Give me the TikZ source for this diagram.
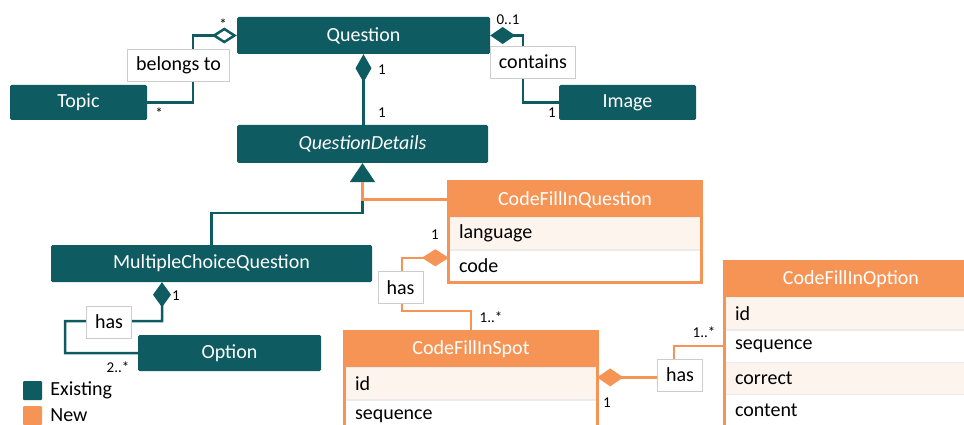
\documentclass[tikz,border=0pt]{standalone}
\usepackage{fontspec}
\setmainfont{Carlito}
\usetikzlibrary{positioning,calc}
\usetikzlibrary{arrows.meta}
\definecolor{oldteal}{HTML}{0F5B62}
\definecolor{neworange}{HTML}{F69455}
\definecolor{rowtint}{HTML}{FEF4EE}

\begin{document}
\begin{tikzpicture}[x=1pt,y=-1pt,
         every node/.style = {font=\fontsize{20}{24}\selectfont},
         existing/.style = {fill=oldteal, text=white, rounded corners=1.5pt,
            inner sep=0pt},
         newclass/.style = {fill=neworange, text=white, minimum width=252pt,
            minimum height=35pt, inner sep=0pt},
         attrrow/.style = {draw=black!8, fill=white, text width=232pt,
            inner xsep=10pt, inner ysep=0pt, minimum height=32pt, align=left},
         tag/.style = {draw=black!20, fill=white, inner xsep=8.5pt,
            inner ysep=0pt, minimum height=32pt},
         mult/.style = {font=\fontsize{15}{17}\selectfont, inner sep=0pt},
         oldlink/.style = {draw=oldteal, line width=2.5pt},
         newlink/.style = {draw=neworange, line width=2.5pt},
         classframe/.style = {draw=neworange, line width=3pt}
]
   \useasboundingbox (0,0) rectangle (964,425);
   \clip (0,0) rectangle (964,425);

   % existing classes
   \node[existing, minimum width=253pt, minimum height=37pt] (question) at (363.5,35.5) {Question};
   \node[existing, minimum width=137pt, minimum height=35pt] (topic) at (78.5,102.5) {Topic};
   \node[existing, minimum width=137pt, minimum height=35pt] (image) at (627.5,102.5) {Image};
   \node[existing, minimum width=251pt, minimum height=38pt, font=\fontsize{20}{24}\selectfont\itshape] (questiondetails) at (362.5,144) {QuestionDetails};
   \node[existing, minimum width=321pt, minimum height=37pt] (mcq) at (211.5,263.5) {MultipleChoiceQuestion};
   \node[existing, minimum width=183pt, minimum height=36pt] (option) at (229.5,353) {Option};

   % new classes with their attributes
   \node[newclass] (cfqhead) at (575,199.5) {CodeFillInQuestion};
   \node[attrrow, fill=rowtint, below=0pt of cfqhead] (cfqlang) {language};
   \node[attrrow, below=0pt of cfqlang] (cfqcode) {code};
   \draw[classframe] (cfqhead.north west) rectangle (cfqcode.south east);

   \node[newclass] (cfishead) at (471,349.5) {CodeFillInSpot};
   \node[attrrow, fill=rowtint, below=0pt of cfishead] (cfisid) {id};
   \node[attrrow, below=0pt of cfisid] (cfisseq) {sequence};
   \draw[classframe] (cfishead.north west) rectangle (cfisseq.south east);

   \node[newclass] (cfiohead) at (851,279.5) {CodeFillInOption};
   \node[attrrow, fill=rowtint, below=0pt of cfiohead] (cfioid) {id};
   \node[attrrow, below=0pt of cfioid] (cfioseq) {sequence};
   \node[attrrow, fill=rowtint, below=0pt of cfioseq] (cfiocorrect) {correct};
   \node[attrrow, below=0pt of cfiocorrect] (cfiocontent) {content};
   \draw[classframe] (cfiohead.north west) rectangle (cfiocontent.south east);

   % associations
   \draw[oldlink, {Diamond[open, length=25pt, width=16pt]}-]
      (question.west) -- ++(-44,0) |- (topic.east);
   \draw[oldlink, {Diamond[length=25pt, width=17pt]}-]
      (question.east) -- ++(33,0) |- (image.west);
   \draw[oldlink, {Diamond[length=28pt, width=16pt]}-]
      (question.south) -- (question.south |- questiondetails.north);
   \draw[oldlink, {Diamond[length=25pt, width=18pt]}-]
      ([xshift=-49.5pt]mcq.south) -- ++(0,39) -| ++(-97,32) -- (option.west);

   % generalization
   \draw[oldlink, -{Triangle[length=19pt, width=25pt]}]
      (mcq.north) -- ++(0,-32) -| (questiondetails.south);
   \draw[newlink] (cfqhead.west) -| ([yshift=-19pt]questiondetails.south);

   \draw[newlink, {Diamond[length=27pt, width=17pt]}-]
      ([yshift=8pt]cfqcode.west) -- ++(-47,0) -- ++(0,53) -| (cfishead.north);
   \draw[newlink, {Diamond[length=26pt, width=18pt]}-]
      ([yshift=6pt]cfisid.east) -- ++(77,0) |- (cfioseq.west);

   \node[tag] (belongs) at (178.5,65) {belongs to};
   \node[tag] (contains) at (533,62) {contains};
   \node[tag] (hasoption) at (109,322) {has};
   \node[tag] (hasspot) at (400.5,287.5) {has};
   \node[tag] (hascfo) at (680,375) {has};

   % multiplicities
   \node[mult] (mtopicq) at (223,24) {*};
   \node[mult] (mtopic) at (159,113) {*};
   \node[mult] (mimageq) at (508,20) {0..1};
   \node[mult] (mimage) at (552,113) {1};
   \node[mult] (mdetailsq) at (382,70) {1};
   \node[mult] (mdetails) at (382,113) {1};
   \node[mult] (moptionq) at (176,296) {1};
   \node[mult] (moption) at (118,367) {2..*};
   \node[mult] (mspotq) at (435,235) {1};
   \node[mult] (mspot) at (491,317) {1..*};
   \node[mult] (mcfos) at (607,403) {1};
   \node[mult] (mcfo) at (704,332) {1..*};

   % legend
   \node[fill=oldteal, rounded corners=1pt, minimum size=19pt, inner sep=0pt] (legold) at (32.5,390.5) {};
   \node[fill=neworange, rounded corners=1pt, minimum size=19pt, inner sep=0pt] (legnew) at (32.5,415.5) {};
   \node[right=8pt of legold, inner sep=0pt] (legoldtxt) {Existing};
   \node[right=8pt of legnew, inner sep=0pt] (legnewtxt) {New};
\end{tikzpicture}
\end{document}
